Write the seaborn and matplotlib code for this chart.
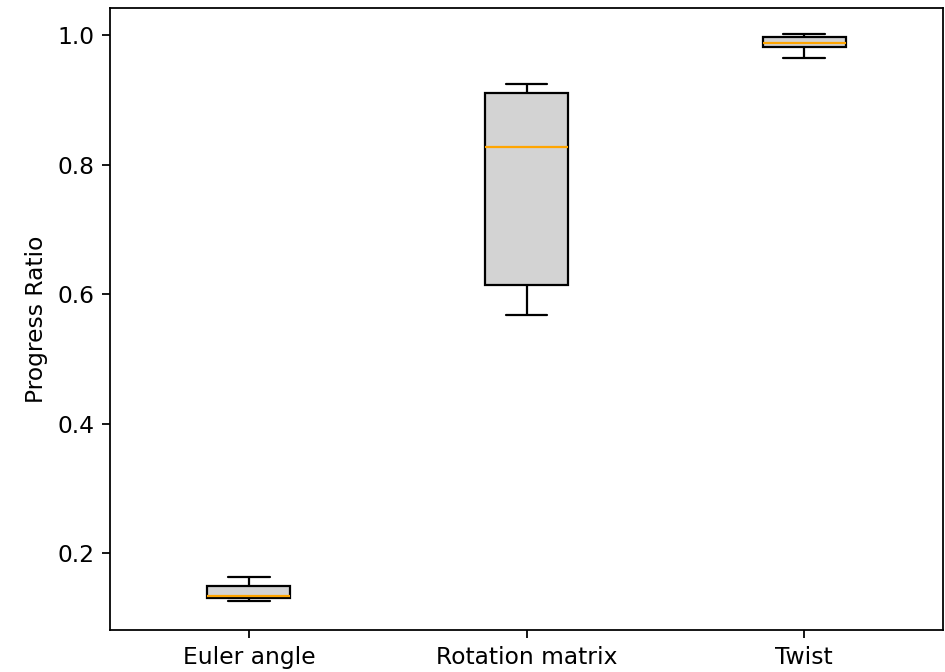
import matplotlib
matplotlib.use('Agg')
import matplotlib.pyplot as plt
import seaborn as sns
import pandas as pd

# five-point samples per method (min, q1, median, q3, max)
methods = ['Euler angle', 'Rotation matrix', 'Twist']
euler_angle = [0.126, 0.1305, 0.1336, 0.149, 0.163]
rotation_matrix = [0.568, 0.614, 0.827, 0.910, 0.924]
twist = [0.9645, 0.981, 0.988, 0.997, 1.0015]

df = pd.DataFrame({
    'method': [methods[0]] * len(euler_angle) + [methods[1]] * len(rotation_matrix) + [methods[2]] * len(twist),
    'ratio': euler_angle + rotation_matrix + twist,
})

sns.set_style('ticks', rc={
    'axes.edgecolor': 'black', 'axes.labelcolor': 'black', 'text.color': 'black',
    'xtick.color': 'black', 'ytick.color': 'black',
})
plt.rcParams['font.family'] = ['DejaVu Sans']
plt.rcParams['font.size'] = 10.5

# 945x672 px at 160 dpi
fig = plt.figure(figsize=(945 / 160, 672 / 160), dpi=160)
ax = fig.add_axes([110 / 945, 1 - 630 / 672, 833 / 945, 622 / 672])

sns.boxplot(
    data=df, x='method', y='ratio', ax=ax,
    width=0.3, color='lightgray', linecolor='black', linewidth=1.0,
    whis=1.5, showfliers=False,
    medianprops={'color': 'orange', 'linewidth': 1.0},
)

ax.set_xlim(-0.5, 2.5)
ax.set_ylim(0.081, 1.042)
ax.set_yticks([0.2, 0.4, 0.6, 0.8, 1.0])
ax.set_xlabel('')
ax.set_ylabel('Progress Ratio', fontsize=10.5)
ax.tick_params(labelsize=10.5, length=3.5, width=0.8)
for s in ax.spines.values():
    s.set_linewidth(0.8)

fig.savefig('out.png', dpi=160)
